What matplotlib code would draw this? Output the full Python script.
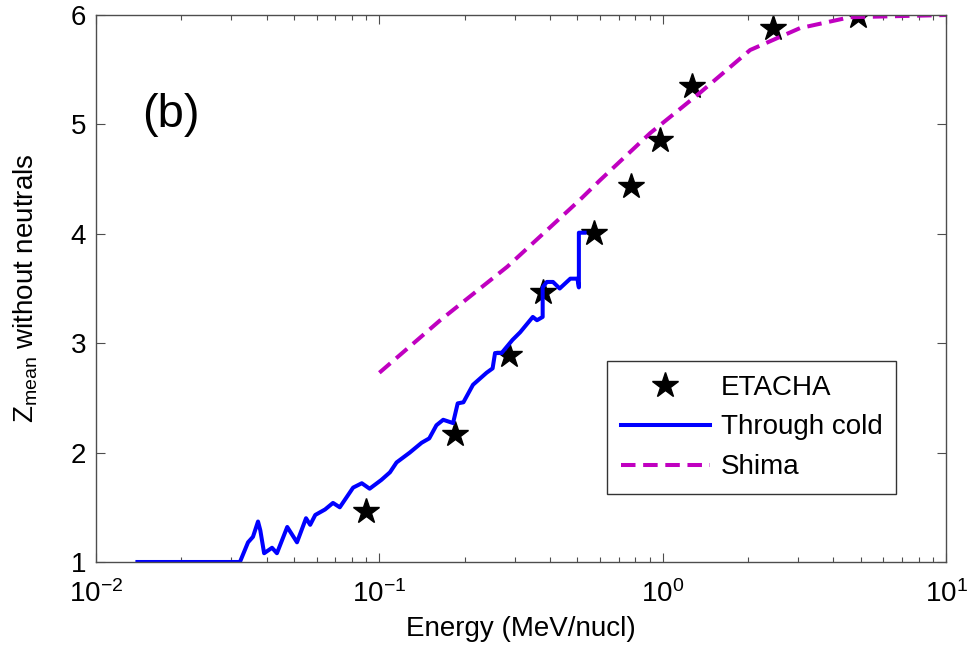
import matplotlib
matplotlib.use('Agg')
import matplotlib.pyplot as plt
import numpy as np

plt.rcParams['font.family'] = ['Liberation Sans', 'DejaVu Sans']
plt.rcParams['mathtext.fontset'] = 'custom'
plt.rcParams['mathtext.rm'] = 'Liberation Sans'
plt.rcParams['mathtext.it'] = 'Liberation Sans:italic'
plt.rcParams['mathtext.bf'] = 'Liberation Sans:bold'

# ETACHA points
etacha_e = [0.0897, 0.185, 0.287, 0.378, 0.573, 0.774, 0.98, 1.27, 2.45, 4.9]
etacha_z = [1.47, 2.17, 2.89, 3.47, 4.01, 4.44, 4.86, 5.35, 5.88, 5.99]

# Through cold
cold_e = [0.0140, 0.0322, 0.0344, 0.0358, 0.0373, 0.0380, 0.0392, 0.0418, 0.0435,
          0.0473, 0.0512, 0.0551, 0.0570, 0.0594, 0.0643, 0.0686, 0.0725, 0.0808,
          0.0867, 0.0924, 0.1016, 0.109, 0.115, 0.128, 0.141, 0.150, 0.159, 0.168,
          0.182, 0.189, 0.198, 0.214, 0.239, 0.251, 0.256, 0.270, 0.295, 0.314,
          0.348, 0.360, 0.377, 0.377, 0.390, 0.410, 0.433, 0.472, 0.500, 0.506,
          0.506, 0.530]
cold_z = [1.00, 1.00, 1.18, 1.23, 1.37, 1.29, 1.08, 1.13, 1.08,
          1.32, 1.18, 1.40, 1.34, 1.43, 1.48, 1.54, 1.50, 1.68,
          1.72, 1.67, 1.75, 1.82, 1.91, 2.00, 2.09, 2.13, 2.25, 2.30,
          2.27, 2.45, 2.46, 2.62, 2.73, 2.77, 2.91, 2.91, 3.03, 3.10,
          3.24, 3.21, 3.24, 3.51, 3.56, 3.56, 3.50, 3.59, 3.59, 3.51,
          4.01, 4.01]

# Shima
shima_e = [0.100, 0.164, 0.283, 0.51, 0.601, 0.903, 1.355, 2.035, 3.05, 4.58, 10.0]
shima_z = [2.73, 3.21, 3.70, 4.31, 4.49, 4.92, 5.29, 5.68, 5.88, 5.98, 6.00]

fig = plt.figure(figsize=(9.69, 6.56), dpi=100)
ax = fig.add_axes([0.0991, 0.1433, 0.8772, 0.8338])

ax.plot(etacha_e, etacha_z, linestyle='none', marker='*', color='k', ms=19, label='ETACHA')
ax.plot(cold_e, cold_z, color='#0000ff', lw=2.9, label='Through cold')
ax.plot(shima_e, shima_z, color='#c000c0', lw=2.9, dashes=(3.6, 1.9), label='Shima')

ax.set_xscale('log')
ax.set_xlim(1e-2, 1e1)
ax.set_ylim(1, 6)
ax.set_yticks([1, 2, 3, 4, 5, 6])

for s in ax.spines.values():
    s.set_color('0.3')
    s.set_linewidth(1)
ax.tick_params(which='both', direction='in', top=True, right=True, colors='0.3',
               labelcolor='k', labelsize=20)
ax.tick_params(which='major', length=6.5, width=0.8)
ax.tick_params(which='minor', length=3.6, width=0.8)
ax.tick_params(axis='y', pad=7)
ax.tick_params(axis='x', pad=13)

ax.set_xlabel('Energy (MeV/nucl)', fontsize=20, labelpad=6)
ax.set_ylabel(r'Z$_{\mathrm{mean}}$ without neutrals', fontsize=20, labelpad=22)

ax.text(0.088, 0.817, '(b)', transform=ax.transAxes, fontsize=34,
        ha='center', va='center')

leg = ax.legend(loc='lower left', bbox_to_anchor=(0.601, 0.124), fontsize=20,
                frameon=True, fancybox=False, borderaxespad=0, handlelength=3.2,
                handletextpad=0.4, labelspacing=0.5, borderpad=0.5)
leg.get_frame().set_edgecolor('k')
leg.get_frame().set_linewidth(1)

fig.savefig('out.png', dpi=100)
